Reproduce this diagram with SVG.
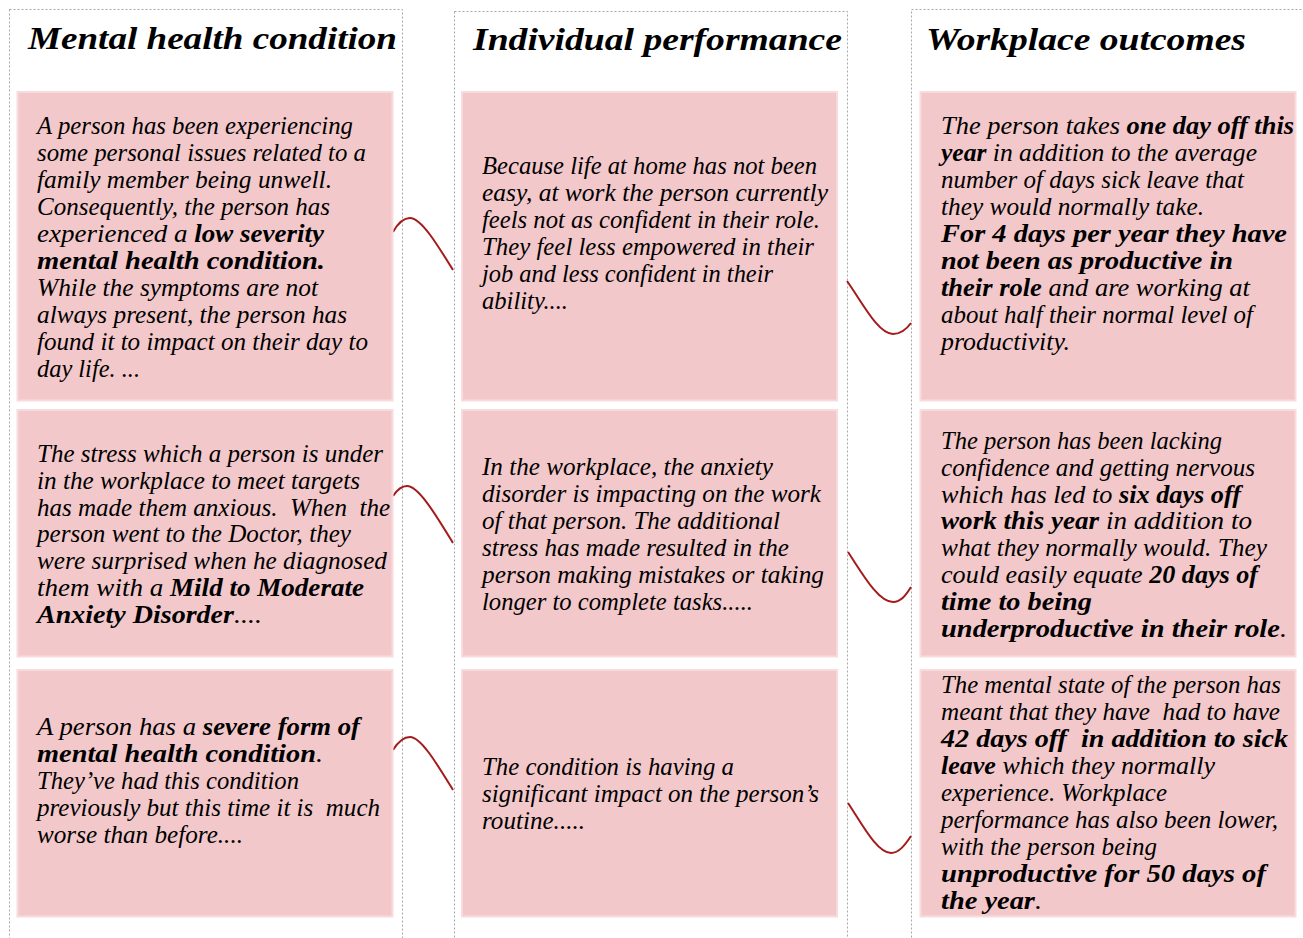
<svg xmlns="http://www.w3.org/2000/svg" width="1303" height="938" viewBox="0 0 1303 938">
<style>
.col{fill:none;stroke:#a6a6a6;stroke-width:1;stroke-dasharray:2 2}
.card{fill:#f3c8ca;stroke:#f8dcdd;stroke-width:2}
.h{font-family:"Liberation Serif","Times New Roman",serif;font-style:italic;font-weight:bold;font-size:31px;fill:#000}
.t{font-family:"Liberation Serif","Times New Roman",serif;font-style:italic;font-size:24.5px;fill:#000;white-space:pre}
.b{font-weight:bold}
.con{fill:none;stroke:#a31b1b;stroke-width:2}
</style>
<rect width="1303" height="938" fill="#fff"/>
<g id="columns">
<rect id="col-mental" class="col" x="9.5" y="9.5" width="393" height="950"/>
<rect id="col-individual" class="col" x="454.5" y="11.5" width="393" height="950"/>
<rect id="col-workplace" class="col" x="911.5" y="9.5" width="400" height="950"/>
<text class="h" x="28" y="49" textLength="369" lengthAdjust="spacingAndGlyphs">Mental health condition</text>
<text class="h" x="473" y="50" textLength="369" lengthAdjust="spacingAndGlyphs">Individual performance</text>
<text class="h" x="926" y="50" textLength="320" lengthAdjust="spacingAndGlyphs">Workplace outcomes</text>
</g>
<g id="connectors">
<path class="con" d="M393,232 C398,223 404,218 410,218 C421,218 437,244 453,270"/>
<path class="con" d="M847,281 C862,302 878,334 893,334 C901,334 906,330 911,323"/>
<path class="con" d="M393,496 C397,490 402,486 407,486 C419,486 437,517 453,543"/>
<path class="con" d="M848,552 C862,573 878,602 893,602 C901,602 906,595 911,587"/>
<path class="con" d="M393,750 C398,742 404,737 410,737 C421,737 437,764 453,790"/>
<path class="con" d="M848,803 C862,824 877,853 891,853 C899,853 905,845 911,836"/>
</g>
<g id="n-mh-low">
<rect class="card" x="17.5" y="92" width="375" height="308.5"/>
<text class="t" x="37" y="134" textLength="316" lengthAdjust="spacingAndGlyphs">A person has been experiencing</text>
<text class="t" x="37" y="161" textLength="329" lengthAdjust="spacingAndGlyphs">some personal issues related to a</text>
<text class="t" x="37" y="188" textLength="295" lengthAdjust="spacingAndGlyphs">family member being unwell.</text>
<text class="t" x="37" y="215" textLength="293" lengthAdjust="spacingAndGlyphs">Consequently, the person has</text>
<text class="t" x="37" y="242" textLength="287" lengthAdjust="spacingAndGlyphs">experienced a <tspan class="b">low severity</tspan></text>
<text class="t" x="37" y="269" textLength="288" lengthAdjust="spacingAndGlyphs"><tspan class="b">mental health condition.</tspan></text>
<text class="t" x="37" y="296" textLength="281" lengthAdjust="spacingAndGlyphs">While the symptoms are not</text>
<text class="t" x="37" y="323" textLength="310" lengthAdjust="spacingAndGlyphs">always present, the person has</text>
<text class="t" x="37" y="350" textLength="331" lengthAdjust="spacingAndGlyphs">found it to impact on their day to</text>
<text class="t" x="37" y="377" textLength="103" lengthAdjust="spacingAndGlyphs">day life. ...</text>
</g>
<g id="n-mh-anxiety">
<rect class="card" x="17.5" y="410" width="375" height="246.5"/>
<text class="t" x="37" y="462" textLength="346" lengthAdjust="spacingAndGlyphs">The stress which a person is under</text>
<text class="t" x="37" y="488.8" textLength="323" lengthAdjust="spacingAndGlyphs">in the workplace to meet targets</text>
<text class="t" x="37" y="515.6" textLength="353" lengthAdjust="spacingAndGlyphs">has made them anxious.  When  the</text>
<text class="t" x="37" y="542.4" textLength="314" lengthAdjust="spacingAndGlyphs">person went to the Doctor, they</text>
<text class="t" x="37" y="569.2" textLength="350" lengthAdjust="spacingAndGlyphs">were surprised when he diagnosed</text>
<text class="t" x="37" y="596" textLength="327" lengthAdjust="spacingAndGlyphs">them with a <tspan class="b">Mild to Moderate</tspan></text>
<text class="t" x="37" y="622.8" textLength="225" lengthAdjust="spacingAndGlyphs"><tspan class="b">Anxiety Disorder</tspan>....</text>
</g>
<g id="n-mh-severe">
<rect class="card" x="17.5" y="670" width="375" height="246.5"/>
<text class="t" x="37" y="735" textLength="323" lengthAdjust="spacingAndGlyphs">A person has a <tspan class="b">severe form of</tspan></text>
<text class="t" x="37" y="762" textLength="286" lengthAdjust="spacingAndGlyphs"><tspan class="b">mental health condition</tspan>.</text>
<text class="t" x="37" y="789" textLength="262" lengthAdjust="spacingAndGlyphs">They’ve had this condition</text>
<text class="t" x="37" y="816" textLength="343" lengthAdjust="spacingAndGlyphs">previously but this time it is  much</text>
<text class="t" x="37" y="843" textLength="206" lengthAdjust="spacingAndGlyphs">worse than before....</text>
</g>
<g id="n-ip-confidence">
<rect class="card" x="462" y="92" width="375" height="308.5"/>
<text class="t" x="482" y="174" textLength="335" lengthAdjust="spacingAndGlyphs">Because life at home has not been</text>
<text class="t" x="482" y="201" textLength="346" lengthAdjust="spacingAndGlyphs">easy, at work the person currently</text>
<text class="t" x="482" y="228" textLength="338" lengthAdjust="spacingAndGlyphs">feels not as confident in their role.</text>
<text class="t" x="482" y="255" textLength="332" lengthAdjust="spacingAndGlyphs">They feel less empowered in their</text>
<text class="t" x="482" y="282" textLength="291" lengthAdjust="spacingAndGlyphs">job and less confident in their</text>
<text class="t" x="482" y="309" textLength="86" lengthAdjust="spacingAndGlyphs">ability....</text>
</g>
<g id="n-ip-mistakes">
<rect class="card" x="462" y="410" width="375" height="246.5"/>
<text class="t" x="482" y="475" textLength="291" lengthAdjust="spacingAndGlyphs">In the workplace, the anxiety</text>
<text class="t" x="482" y="502" textLength="339" lengthAdjust="spacingAndGlyphs">disorder is impacting on the work</text>
<text class="t" x="482" y="529" textLength="298" lengthAdjust="spacingAndGlyphs">of that person. The additional</text>
<text class="t" x="482" y="556" textLength="307" lengthAdjust="spacingAndGlyphs">stress has made resulted in the</text>
<text class="t" x="482" y="583" textLength="342" lengthAdjust="spacingAndGlyphs">person making mistakes or taking</text>
<text class="t" x="482" y="610" textLength="271" lengthAdjust="spacingAndGlyphs">longer to complete tasks.....</text>
</g>
<g id="n-ip-routine">
<rect class="card" x="462" y="670" width="375" height="246.5"/>
<text class="t" x="482" y="775" textLength="252" lengthAdjust="spacingAndGlyphs">The condition is having a</text>
<text class="t" x="482" y="802" textLength="337" lengthAdjust="spacingAndGlyphs">significant impact on the person’s</text>
<text class="t" x="482" y="829" textLength="103" lengthAdjust="spacingAndGlyphs">routine.....</text>
</g>
<g id="n-wo-oneday">
<rect class="card" x="920.5" y="92" width="375" height="308.5"/>
<text class="t" x="941" y="134" textLength="353" lengthAdjust="spacingAndGlyphs">The person takes <tspan class="b">one day off this</tspan></text>
<text class="t" x="941" y="161" textLength="316" lengthAdjust="spacingAndGlyphs"><tspan class="b">year</tspan> in addition to the average</text>
<text class="t" x="941" y="188" textLength="303" lengthAdjust="spacingAndGlyphs">number of days sick leave that</text>
<text class="t" x="941" y="215" textLength="263" lengthAdjust="spacingAndGlyphs">they would normally take.</text>
<text class="t" x="941" y="242" textLength="346" lengthAdjust="spacingAndGlyphs"><tspan class="b">For 4 days per year they have</tspan></text>
<text class="t" x="941" y="269" textLength="292" lengthAdjust="spacingAndGlyphs"><tspan class="b">not been as productive in</tspan></text>
<text class="t" x="941" y="296" textLength="309" lengthAdjust="spacingAndGlyphs"><tspan class="b">their role</tspan> and are working at</text>
<text class="t" x="941" y="323" textLength="312" lengthAdjust="spacingAndGlyphs">about half their normal level of</text>
<text class="t" x="941" y="350" textLength="129" lengthAdjust="spacingAndGlyphs">productivity.</text>
</g>
<g id="n-wo-sixdays">
<rect class="card" x="920.5" y="410" width="375" height="246.5"/>
<text class="t" x="941" y="449" textLength="281" lengthAdjust="spacingAndGlyphs">The person has been lacking</text>
<text class="t" x="941" y="475.8" textLength="314" lengthAdjust="spacingAndGlyphs">confidence and getting nervous</text>
<text class="t" x="941" y="502.6" textLength="300" lengthAdjust="spacingAndGlyphs">which has led to <tspan class="b">six days off</tspan></text>
<text class="t" x="941" y="529.4" textLength="311" lengthAdjust="spacingAndGlyphs"><tspan class="b">work this year</tspan> in addition to</text>
<text class="t" x="941" y="556.2" textLength="326" lengthAdjust="spacingAndGlyphs">what they normally would. They</text>
<text class="t" x="941" y="583" textLength="317" lengthAdjust="spacingAndGlyphs">could easily equate <tspan class="b">20 days of</tspan></text>
<text class="t" x="941" y="609.8" textLength="151" lengthAdjust="spacingAndGlyphs"><tspan class="b">time to being</tspan></text>
<text class="t" x="941" y="636.6" textLength="346" lengthAdjust="spacingAndGlyphs"><tspan class="b">underproductive in their role</tspan>.</text>
</g>
<g id="n-wo-fortytwo">
<rect class="card" x="920.5" y="670" width="375" height="246.5"/>
<text class="t" x="941" y="693" textLength="340" lengthAdjust="spacingAndGlyphs">The mental state of the person has</text>
<text class="t" x="941" y="720" textLength="339" lengthAdjust="spacingAndGlyphs">meant that they have  had to have</text>
<text class="t" x="941" y="747" textLength="347" lengthAdjust="spacingAndGlyphs"><tspan class="b">42 days off  in addition to sick</tspan></text>
<text class="t" x="941" y="774" textLength="274" lengthAdjust="spacingAndGlyphs"><tspan class="b">leave</tspan> which they normally</text>
<text class="t" x="941" y="801" textLength="226" lengthAdjust="spacingAndGlyphs">experience. Workplace</text>
<text class="t" x="941" y="828" textLength="337" lengthAdjust="spacingAndGlyphs">performance has also been lower,</text>
<text class="t" x="941" y="855" textLength="216" lengthAdjust="spacingAndGlyphs">with the person being</text>
<text class="t" x="941" y="882" textLength="325" lengthAdjust="spacingAndGlyphs"><tspan class="b">unproductive for 50 days of</tspan></text>
<text class="t" x="941" y="909" textLength="101" lengthAdjust="spacingAndGlyphs"><tspan class="b">the year</tspan>.</text>
</g>
</svg>
